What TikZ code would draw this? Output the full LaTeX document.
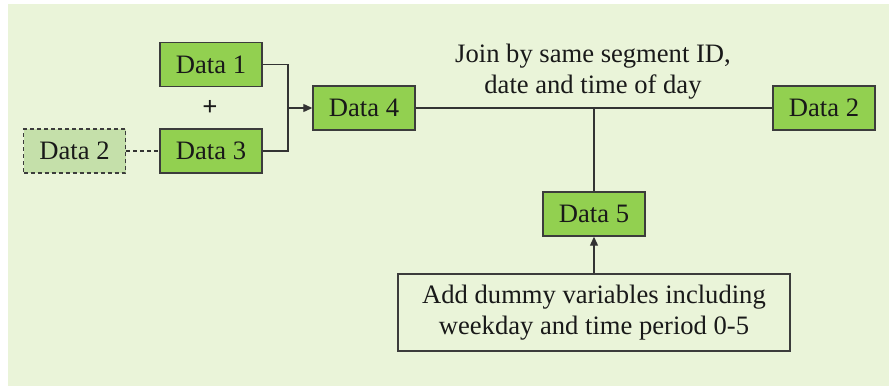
\documentclass[tikz,border=0pt]{standalone}
\usepackage{fontspec}
\setmainfont{Liberation Serif}
\newfontfamily\labelfont{Liberation Serif}
\usetikzlibrary{arrows.meta}
\definecolor{bgpanel}{RGB}{234,244,217}
\definecolor{datafill}{RGB}{146,208,80}
\definecolor{ghostfill}{RGB}{197,224,170}
\definecolor{edge}{RGB}{60,60,60}
\tikzset{
  txt/.style={font=\labelfont\fontsize{13.3}{15.5}\selectfont, text=black!90},
  databox/.style={txt, draw=edge, line width=0.7pt, fill=datafill, inner sep=0pt,
    minimum width=51pt, minimum height=22pt},
  ghostbox/.style={databox, fill=ghostfill, dash pattern=on 2pt off 1.5pt},
  notebox/.style={txt, draw=edge, line width=0.7pt, inner sep=0pt, minimum width=196pt,
    minimum height=38.5pt, align=center},
  link/.style={draw=black!80, line width=0.6pt},
  flow/.style={link, -{Triangle[length=4.5pt,width=4pt]}}
}
\begin{document}
\begin{tikzpicture}[x=0.5pt,y=-0.5pt]
  \useasboundingbox (0,0) rectangle (889,386);
  \fill[bgpanel] (8,4) rectangle (889,386);

  % source tables
  \node[databox] (d1) at (211,64.5) {Data 1};
  \node[databox] (d3) at (211,151) {Data 3};
  \node[ghostbox] (d2a) at (74.5,151) {Data 2};
  \node[txt, font=\labelfont\fontsize{13.3}{15.5}\selectfont\bfseries] (plus) at (210,108) {+};

  % merged and joined tables
  \node[databox] (d4) at (364,108) {Data 4};
  \node[databox] (d2b) at (824,108) {Data 2};
  \node[databox] (d5) at (594,214) {Data 5};
  \node[notebox] (note) at (594,312.5)
    {Add dummy variables including\\weekday and time period 0-5};
  \node[txt, align=center] (join) at (593,72)
    {Join by same segment ID,\\date and time of day};

  % connectors
  \coordinate (merge) at (288,108);
  \coordinate (tee) at (594,108);
  \draw[link, dash pattern=on 2pt off 1.5pt] (d2a.east) -- (d3.west);
  \draw[link] (d1.east) -| (merge);
  \draw[link] (d3.east) -| (merge);
  \draw[flow] (merge) -- (d4.west);
  \draw[link] (d4.east) -- (d2b.west);
  \draw[link] (tee) -- (d5.north);
  \draw[flow] (note.north) -- (d5.south);
\end{tikzpicture}
\end{document}
